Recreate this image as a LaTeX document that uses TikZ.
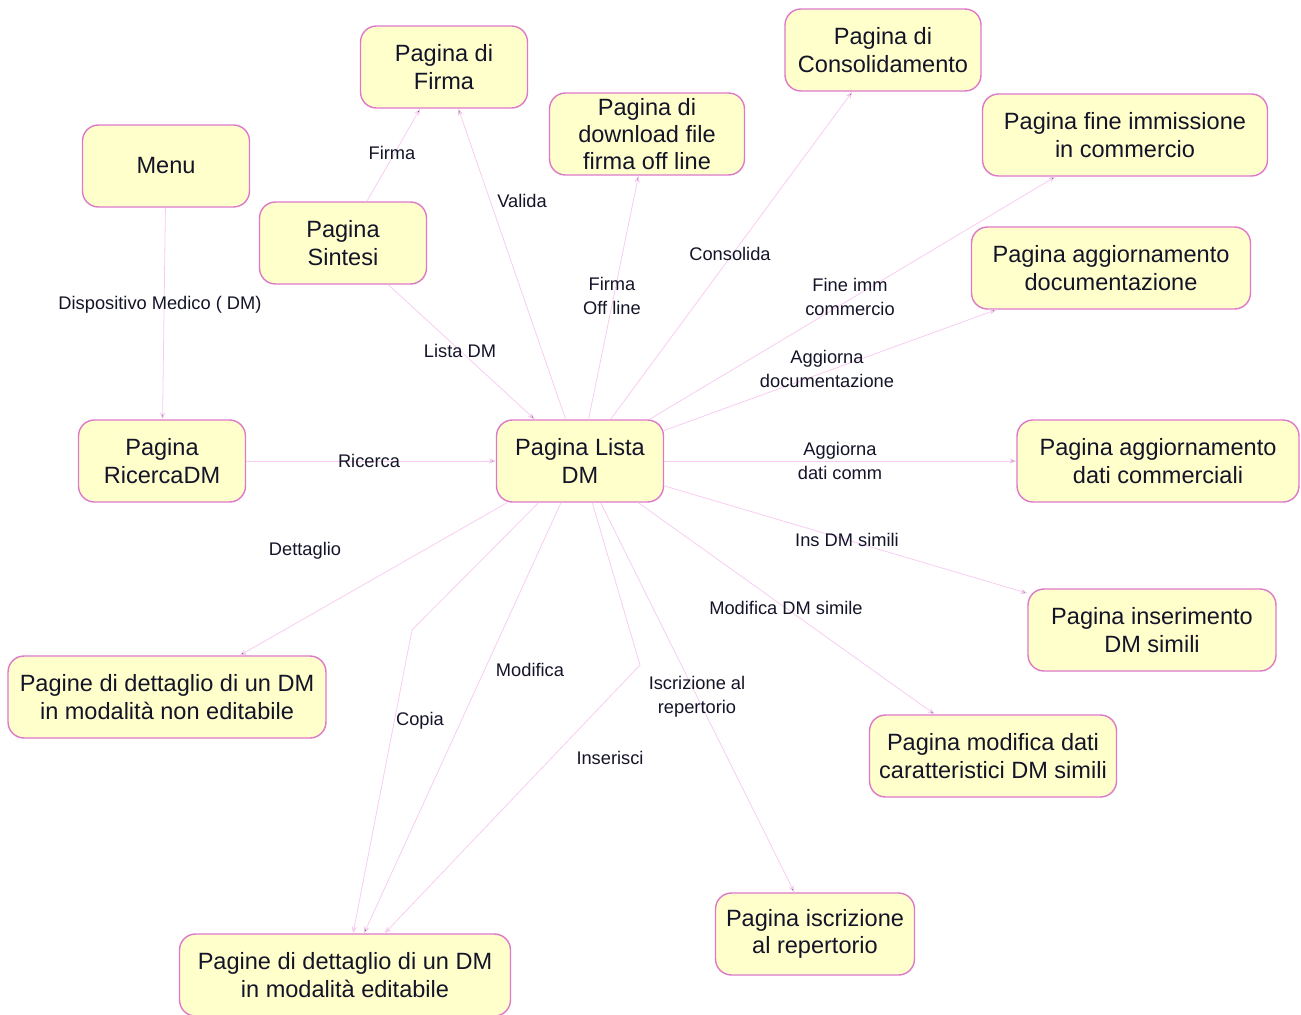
\documentclass[tikz,border=0pt]{standalone}
\usepackage{fontspec}
\setmainfont{Liberation Sans}
\usepackage{tikz}
\usetikzlibrary{arrows.meta}
\usetikzlibrary{positioning}
\definecolor{pagefill}{RGB}{255,255,204}
\definecolor{pageline}{RGB}{222,120,200}
\definecolor{linkline}{RGB}{248,204,240}
\definecolor{labeltext}{RGB}{20,20,40}
\tikzset{
    page/.style={
           rectangle,
           rounded corners=0.32cm,
           draw=pageline, line width=0.8pt,
           fill=pagefill,
           minimum width=3.34cm,
           minimum height=1.64cm,
           inner sep=2pt,
           align=center,
           text=labeltext,
           font=\fontsize{13.4}{15.6}\selectfont,
           },
    lbl/.style={
           inner sep=0pt,
           align=center,
           text=labeltext,
           font=\fontsize{10.4}{13.6}\selectfont,
           },
    link/.style={
           draw=linkline, line width=0.45pt,
           -{Stealth[length=4pt,width=3pt]},
           },
}
\begin{document}
\begin{tikzpicture}[x=0.02cm,y=-0.02cm]
      \useasboundingbox (0,0) rectangle (1301,1014);
      \clip (0,0) rectangle (1301,1014);
      % pages
      \node[page] (firma)     at (444,67)   {Pagina di\\Firma};
      \node[page, minimum width=3.9cm] (download) at (647,134) {Pagina di\\download file\\firma off line};
      \node[page, minimum width=3.92cm] (consol) at (883,50)  {Pagina di\\Consolidamento};
      \node[page] (menu)      at (166,166)  {Menu};
      \node[page] (sintesi)   at (343,243)  {Pagina\\Sintesi};
      \node[page, minimum width=5.7cm] (fineimm) at (1125,135) {Pagina fine immissione\\in commercio};
      \node[page, minimum width=5.58cm] (aggdoc) at (1111,268) {Pagina aggiornamento\\documentazione};
      \node[page] (ricerca)   at (162,461)  {Pagina\\RicercaDM};
      \node[page] (lista)     at (580,461)  {Pagina Lista\\DM};
      \node[page, minimum width=5.64cm] (aggcomm) at (1158,461) {Pagina aggiornamento\\dati commerciali};
      \node[page, minimum width=4.96cm] (inssimili) at (1152,630) {Pagina inserimento\\DM simili};
      \node[page, minimum width=4.94cm] (modsimili) at (993,756) {Pagina modifica dati\\caratteristici DM simili};
      \node[page, minimum width=3.98cm] (iscriz) at (815,934) {Pagina iscrizione\\al repertorio};
      \node[page, minimum width=6.36cm] (detnoned) at (167,697) {Pagine di dettaglio di un DM\\in modalità non editabile};
      \node[page, minimum width=6.62cm] (detedit) at (345,975) {Pagine di dettaglio di un DM\\in modalità editabile};
      % bends
      \coordinate (bcopia) at (412,630);
      \coordinate (binser) at (640,665);
      % links
      \path[link]
      (menu) edge (ricerca)
      (ricerca) edge (lista)
      (sintesi) edge (lista)
      (sintesi) edge (firma)
      (lista) edge (firma)
      (lista) edge (download)
      (lista) edge (consol)
      (lista) edge (fineimm)
      (lista) edge (aggdoc)
      (lista) edge (aggcomm)
      (lista) edge (inssimili)
      (lista) edge (modsimili)
      (lista) edge (iscriz)
      (lista) edge (detnoned)
      (lista) edge (detedit);
      \draw[link] (lista) -- (bcopia) -- (detedit);
      \draw[link] (lista) -- (binser) -- (detedit);
      % labels
      \node[lbl] (lDisp)   at (160,305) {Dispositivo Medico ( DM)};
      \node[lbl] (lFirma)  at (392,153) {Firma};
      \node[lbl] (lValida) at (522,201) {Valida};
      \node[lbl] (lLista)  at (460,351) {Lista DM};
      \node[lbl] (lOff)    at (612,296) {Firma\\Off line};
      \node[lbl] (lCons)   at (730,254) {Consolida};
      \node[lbl] (lFine)   at (850,297) {Fine imm\\commercio};
      \node[lbl] (lAggDoc) at (827,369) {Aggiorna\\documentazione};
      \node[lbl] (lRic)    at (369,461) {Ricerca};
      \node[lbl] (lAggCom) at (840,461) {Aggiorna\\dati comm};
      \node[lbl] (lIns)    at (847,540) {Ins DM simili};
      \node[lbl] (lModSim) at (786,608) {Modifica DM simile};
      \node[lbl] (lDett)   at (305,551) {Dettaglio};
      \node[lbl] (lMod)    at (530,670) {Modifica};
      \node[lbl] (lIscr)   at (697,697) {Iscrizione al\\repertorio};
      \node[lbl] (lCopia)  at (420,721) {Copia};
      \node[lbl] (lInser)  at (610,758) {Inserisci};
\end{tikzpicture}
\end{document}
